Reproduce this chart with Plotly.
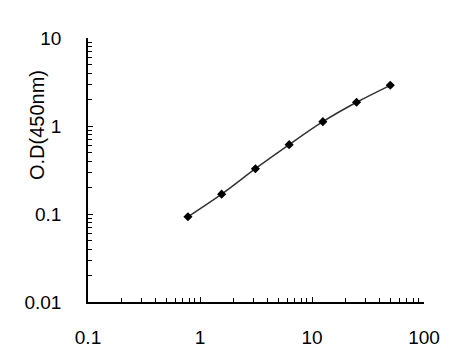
import plotly.graph_objects as go

concentration = [0.78, 1.56, 3.125, 6.25, 12.5, 25, 50]
od_450 = [0.093, 0.168, 0.327, 0.614, 1.12, 1.86, 2.90]
x_ticks = [0.1, 1, 10, 100]
x_tick_labels = ["0.1", "1", "10", "100"]
y_ticks = [0.01, 0.1, 1, 10]
y_tick_labels = ["0.01", "0.1", "1", "10"]
y_title = "O.D(450nm)"

fig = go.Figure()
fig.add_trace(go.Scatter(
    x=concentration, y=od_450, mode="lines+markers",
    line=dict(color="#333333", width=1.5, shape="spline"),
    marker=dict(symbol="diamond", size=7, color="#000000"),
    showlegend=False,
))

fnt = dict(family="Liberation Sans, Arial, sans-serif", size=19, color="#000000")
fig.update_layout(
    width=467, height=348,
    margin=dict(l=88, r=43, t=38, b=46),
    paper_bgcolor="white", plot_bgcolor="white",
    font=fnt,
    xaxis=dict(
        type="log", range=[-1, 2], automargin=False,
        tickvals=x_ticks, ticktext=x_tick_labels, tickfont=fnt,
        ticks="inside", ticklen=5, tickcolor="black", tickwidth=1,
        showline=True, linecolor="black", linewidth=1.5,
        showgrid=False, zeroline=False,
        ticklabelstandoff=17,
        minor=dict(ticks="inside", ticklen=4, tickcolor="black", tickwidth=1,
                   tickvals=[m * 10 ** e for e in (-1, 0, 1) for m in range(2, 10)],
                   showgrid=False),
    ),
    yaxis=dict(
        type="log", range=[-2, 1], automargin=False,
        tickvals=y_ticks, ticktext=y_tick_labels, tickfont=fnt,
        ticks="inside", ticklen=5, tickcolor="black", tickwidth=1,
        showline=True, linecolor="black", linewidth=1.5,
        showgrid=False, zeroline=False,
        ticklabelstandoff=21,
        minor=dict(ticks="inside", ticklen=4, tickcolor="black", tickwidth=1,
                   tickvals=[m * 10 ** e for e in (-2, -1, 0) for m in range(2, 10)],
                   showgrid=False),
    ),
    annotations=[dict(
        text=y_title, xref="paper", yref="paper",
        x=-51 / 336, y=(302 - 125) / 264, xanchor="center", yanchor="middle",
        textangle=-90, showarrow=False,
        font=dict(family="Liberation Sans, Arial, sans-serif", size=20, color="#000000"),
    )],
)

fig.write_html("out.html")
